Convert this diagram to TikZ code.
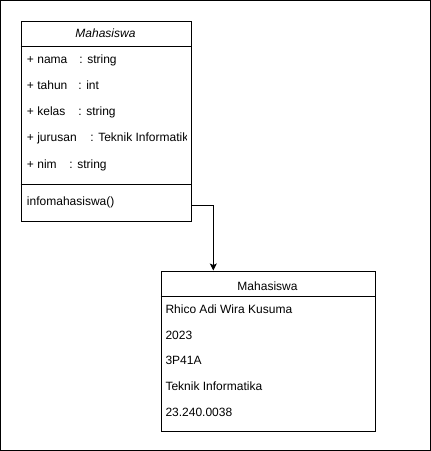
\documentclass[tikz,border=0pt]{standalone}
\usepackage{fontspec}
\setmainfont{Liberation Sans}
\usetikzlibrary{arrows.meta}
\begin{document}
\begin{tikzpicture}[x=1pt,y=-1pt,line width=1pt,
  txt/.style={inner sep=0pt,anchor=base west,font=\fontsize{12}{14}\selectfont},
  ctxt/.style={inner sep=0pt,anchor=base,font=\fontsize{12}{14}\selectfont},
  box/.style={draw,inner sep=0pt,anchor=north west},
  row/.style={inner sep=0pt,anchor=north west,minimum width=170pt},
  conn/.style={draw,-{Stealth[length=7pt,width=7pt,inset=1.5pt]}}]
\useasboundingbox (0,0) rectangle (431,451);
\draw (0.5,0.5) rectangle (430.5,450.5);
% class box
\node[box,minimum width=170pt,minimum height=200pt] (cls) at (20.5,20.5) {};
\draw ([yshift=-26pt]cls.north west) -- ([yshift=-26pt]cls.north east);
\draw ([yshift=-164pt]cls.north west) -- ([yshift=-164pt]cls.north east);
\node[ctxt] (h1) at (105.5,37.5) {\itshape Mahasiswa};
\node[txt] (a1) at (26.5,63.5) {\makebox[52.5pt][l]{+ nama}: string};
\node[txt] (a2) at (26.5,89.5) {\makebox[51.5pt][l]{+ tahun}: int};
\node[txt] (a3) at (26.5,115) {\makebox[51.5pt][l]{+ kelas}: string};
\begin{scope}
\clip (20,120) rectangle (186,160);
\node[txt] (a4) at (26.5,141) {\makebox[63.5pt][l]{+ jurusan}: Teknik Informatika};
\end{scope}
\node[txt] (a5) at (26.5,168) {\makebox[42.5pt][l]{+ nim}: string};
\node[row,minimum height=32pt] (meth) at (20.5,188.5) {};
\node[txt] (m1) at (26.5,205) {infomahasiswa()};
% object box
\node[box,minimum width=214pt,minimum height=160pt] (obj) at (160.5,270.5) {};
\draw ([yshift=-26pt]obj.north west) -- ([yshift=-26pt]obj.north east);
\node[ctxt] (h2) at (267.5,290) {Mahasiswa};
\node[txt] (o1) at (165,313.3) {Rhico Adi Wira Kusuma};
\node[txt] (o2) at (165,339.3) {2023};
\node[txt] (o3) at (165,364.7) {3P41A};
\node[txt] (o4) at (165,390.7) {Teknik Informatika};
\node[txt] (o5) at (165,416.7) {23.240.0038};
% connector
\draw[conn] (meth.east) -| ([xshift=52.8pt]obj.north west);
\end{tikzpicture}
\end{document}
